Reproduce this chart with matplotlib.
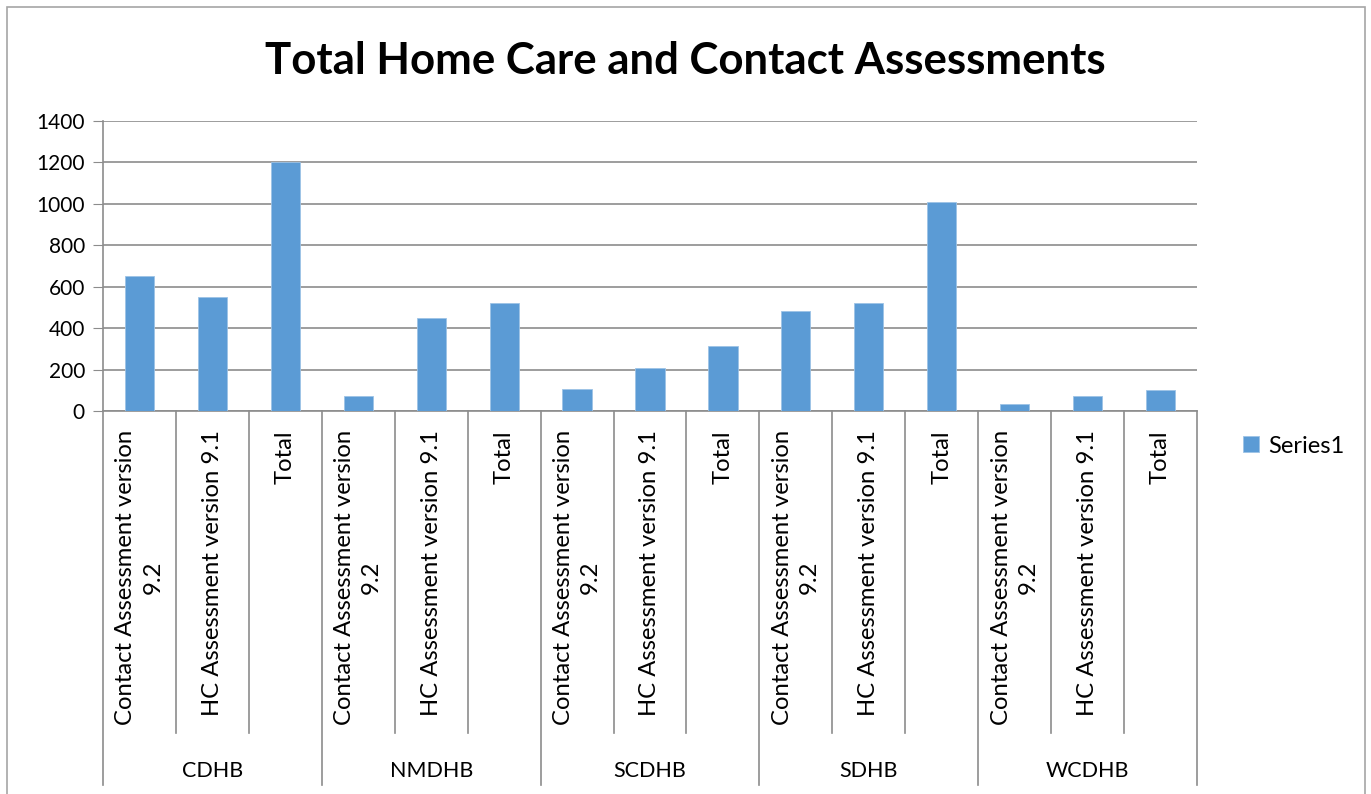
import matplotlib
matplotlib.use("Agg")
import matplotlib.pyplot as plt
from matplotlib.patches import Rectangle
from matplotlib.lines import Line2D
from matplotlib.transforms import blended_transform_factory

plt.rcParams['font.family'] = ['Lato', 'DejaVu Sans']

districts = ["CDHB", "NMDHB", "SCDHB", "SDHB", "WCDHB"]
measures = ["Contact Assessment version\n9.2", "HC Assessment version 9.1", "Total"]
values = [
    [653, 549, 1202],   # CDHB
    [71, 449, 520],     # NMDHB
    [104, 210, 313],    # SCDHB
    [483, 523, 1007],   # SDHB
    [32, 71, 102],      # WCDHB
]
series_name = "Series1"
bar_color = "#5B9BD5"
grid_color = "#8C8C8C"

W, H = 1371, 794
fig = plt.figure(figsize=(W / 100, H / 100), dpi=100)

# outer chart border
fig.patches.append(Rectangle((7 / W, -0.05), 1358 / W, 1 - 7 / H + 0.05,
                             transform=fig.transFigure, fill=False,
                             edgecolor="#A6A6A6", linewidth=1.2))

left, top, right, bottom = 103, 121, 1197, 411
ax = fig.add_axes([left / W, 1 - bottom / H, (right - left) / W, (bottom - top) / H])

flat = [v for grp in values for v in grp]
xs = list(range(len(flat)))
bars = ax.bar(xs, flat, width=0.4, color=bar_color, edgecolor="#9DC3E6",
              linewidth=0.6, zorder=3, label=series_name)

ax.set_xlim(-0.5, len(flat) - 0.5)
ax.set_ylim(0, 1400)
ax.set_yticks(range(0, 1401, 200))
ax.yaxis.grid(True, color=grid_color, linewidth=1.2, zorder=0)
ax.tick_params(axis="y", labelsize=15, length=7, color=grid_color, pad=6)
ax.set_xticks([])
for s in ["top", "right"]:
    ax.spines[s].set_visible(False)
for s in ["left", "bottom"]:
    ax.spines[s].set_color(grid_color)
    ax.spines[s].set_linewidth(1.2)

# multi-level category axis
ph = bottom - top
trans = blended_transform_factory(ax.transData, ax.transAxes)
y_lab = -(430 - bottom) / ph
y_sep = -(733 - bottom) / ph
y_grp = -(785 - bottom) / ph
y_gl = -(771 - bottom) / ph
n = len(measures)
for i in range(len(flat) + 1):
    b = i - 0.5
    y_end = y_grp if i % n == 0 else y_sep
    ax.add_line(Line2D([b, b], [0, y_end], transform=trans, color=grid_color,
                       linewidth=1.2, clip_on=False))
for gi, d in enumerate(districts):
    for mi, m in enumerate(measures):
        ax.text(gi * n + mi, y_lab, m, transform=trans, rotation=90,
                ha="center", va="top", multialignment="center", fontsize=17.2,
                linespacing=1.35)
    ax.text(gi * n + (n - 1) / 2, y_gl, d, transform=trans, ha="center",
            va="center", fontsize=15.5)

fig.text(685 / W, 1 - 61 / H, "Total Home Care and Contact Assessments",
         ha="center", va="center", fontsize=31.5, fontweight="bold")

fig.legend(handles=[bars], labels=[series_name], loc="center left",
           bbox_to_anchor=(1222 / W, 1 - 446 / H), frameon=False, fontsize=17,
           handlelength=0.65, handleheight=0.65, handletextpad=0.4)

fig.savefig("out.png", dpi=100)
